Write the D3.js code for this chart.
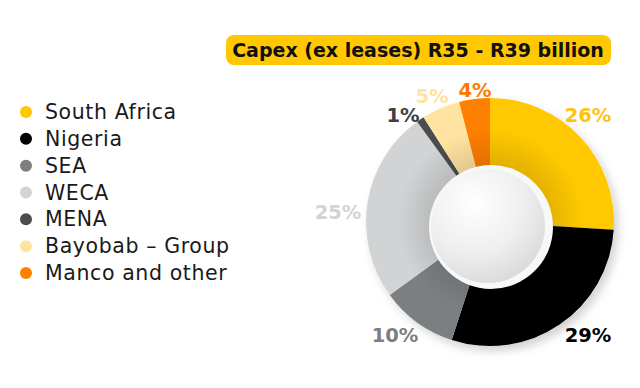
<!DOCTYPE html>
<html><head><meta charset="utf-8">
<script src="https://cdn.jsdelivr.net/npm/d3@7"></script>
<style>body{margin:0;background:#fff;}svg{display:block;font-family:"DejaVu Sans",sans-serif;}</style>
</head><body><svg id="c" width="640" height="388"></svg>
<script>
const categories = ["South Africa","Nigeria","SEA","WECA","MENA","Bayobab \u2013 Group","Manco and other"];
const values = [26,29,10,25,1,5,4];
const labels = ["26%","29%","10%","25%","1%","5%","4%"];
const colors = ["#ffc800","#000000","#7c7f82","#d1d3d4","#4b4c4e","#ffe3a0","#ff7f00"];
const labelColors = ["#ffc20e","#000000","#7c7f82","#d1d3d4","#3d3e40","#ffe3a0","#ff7a00"];
const title = "Capex (ex leases) R35 - R39 billion";

const svg = d3.select("#c");
const defs = svg.append("defs");
const sg = defs.append("radialGradient").attr("id","sphere").attr("cx","38%").attr("cy","30%").attr("r","75%");
sg.append("stop").attr("offset","0%").attr("stop-color","#ffffff");
sg.append("stop").attr("offset","60%").attr("stop-color","#eeeeee");
sg.append("stop").attr("offset","100%").attr("stop-color","#d9d9d9");
const sh = defs.append("filter").attr("id","shadow").attr("x","-20%").attr("y","-20%").attr("width","150%").attr("height","150%");
sh.append("feDropShadow").attr("dx",4).attr("dy",5).attr("stdDeviation",5).attr("flood-color","#000").attr("flood-opacity",0.18);
const shade = defs.append("radialGradient").attr("id","shade").attr("cx","50%").attr("cy","50%").attr("r","50%");
shade.append("stop").attr("offset","45%").attr("stop-color","#000").attr("stop-opacity",0.12);
shade.append("stop").attr("offset","75%").attr("stop-color","#000").attr("stop-opacity",0.0);

// Title
const tg = svg.append("g");
tg.append("rect").attr("x",226).attr("y",35).attr("width",385).attr("height",30).attr("rx",8).attr("fill","#ffc800");
tg.append("text").attr("x",418).attr("y",57).attr("text-anchor","middle").attr("font-size",19).attr("font-weight",700).attr("fill","#111").text(title);

// Legend
const legY = d3.scalePoint().domain(categories).range([112,273]);
const lg = svg.append("g");
categories.forEach((c,i)=>{
  lg.append("circle").attr("cx",26).attr("cy",legY(c)).attr("r",6).attr("fill",colors[i]);
  lg.append("text").attr("x",45).attr("y",legY(c)+7).attr("font-size",20.5).attr("letter-spacing",0.6).attr("fill","#1a1a1a").text(c);
});

// Pie
const cx=490, cy=222, R=124;
const pie = d3.pie().sort(null).value(d=>d);
const arcs = pie(values);
const arc = d3.arc().innerRadius(0).outerRadius(R);
const g = svg.append("g").attr("transform",`translate(${cx},${cy})`);
g.append("circle").attr("r",R).attr("fill","#fff").attr("filter","url(#shadow)");
g.selectAll("path.s").data(arcs).join("path").attr("class","s").attr("d",arc).attr("fill",(d,i)=>colors[i]);
g.append("circle").attr("r",R).attr("fill","url(#shade)");
// hole
g.append("circle").attr("cx",1).attr("cy",5).attr("r",62).attr("fill","#f8f8f8");
g.append("circle").attr("cx",-2).attr("cy",4).attr("r",57).attr("fill","url(#sphere)");

// Percentage labels
const labPos = [[588,115],[588,335],[395,335],[338,212],[403,115],[432,96],[475,90]];
svg.append("g").selectAll("text").data(arcs).join("text")
  .attr("x",(d,i)=>labPos[i][0]).attr("y",(d,i)=>labPos[i][1]+7)
  .attr("text-anchor","middle").attr("font-size",19.5).attr("font-weight",700)
  .attr("fill",(d,i)=>labelColors[i]).text((d,i)=>labels[i]);
</script></body></html>
